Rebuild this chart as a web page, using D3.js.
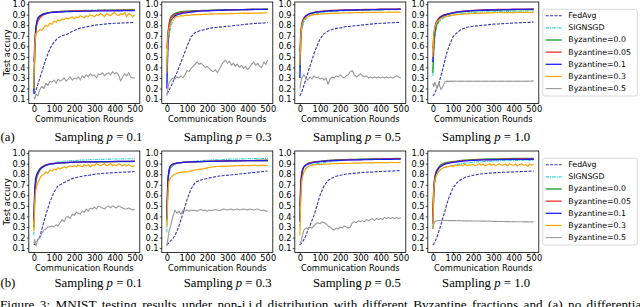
<!DOCTYPE html>
<html>
<head>
<meta charset="utf-8">
<script src="https://cdn.jsdelivr.net/npm/d3@7"></script>
<style>
  body { margin: 0; background: #fff; }
  svg { display: block; }
</style>
</head>
<body>
<svg id="fig" width="640" height="307"></svg>
<script>
// rounds used for the smooth curves and for the noisy ones
var roundsCoarse = [0,5,10,15,20, 30,40,50,60,70,80, 100,120,140,160,180,200, 225,250,275,300, 325,350,375,400, 425,450,475,500];
var roundsFine = [0,5,10, 20,30,40,50,60,70,80,90,100,110, 120,130,140,150,160,170,180,190,200,210,
  220,230,240,250,260,270,280,290,300,310, 320,330,340,350,360,370,380,390,400,410, 420,430,440,450,460,470,480,490,500];

var seriesNames = ["FedAvg", "SIGNSGD", "Byzantine=0.0", "Byzantine=0.05", "Byzantine=0.1", "Byzantine=0.3", "Byzantine=0.5"];
var samplingValues = ["0.1", "0.3", "0.5", "1.0"];
var rowTags = ["(a)", "(b)"];
var xTicks = [0, 100, 200, 300, 400, 500];
var yTicks = [0.1, 0.2, 0.3, 0.4, 0.5, 0.6, 0.7, 0.8, 0.9, 1.0];

// ---- row (a), p = 0.1
var fedavgA1 = [0.15,0.16,0.18,0.21,0.24, 0.30,0.36,0.42,0.48,0.53,0.58, 0.64,0.68,0.70,0.71,0.73,0.75, 0.77,0.78,0.79,0.80, 0.805,0.81,0.815,0.818, 0.82,0.822,0.824,0.826];
var signsgdA1 = [0.20,0.60,0.75,0.80,0.84, 0.87,0.89,0.90,0.91,0.915,0.92, 0.925,0.93,0.932,0.935,0.937,0.938, 0.94,0.942,0.943,0.944, 0.945,0.946,0.947,0.948, 0.948,0.949,0.95,0.95];
var byz0A1 = [0.18,0.62,0.76,0.82,0.85, 0.88,0.90,0.91,0.915,0.92,0.922, 0.925,0.928,0.93,0.932,0.933,0.934, 0.935,0.936,0.937,0.938, 0.939,0.94,0.94,0.941, 0.941,0.942,0.942,0.943];
var byz005A1 = [0.45,0.65,0.77,0.81,0.84, 0.87,0.89,0.90,0.91,0.915,0.92, 0.924,0.927,0.93,0.932,0.934,0.935, 0.936,0.937,0.938,0.939, 0.94,0.94,0.941,0.941, 0.942,0.942,0.943,0.943];
var byz01A1 = [0.15,0.60,0.78,0.84,0.87, 0.89,0.90,0.905,0.91,0.915,0.92, 0.923,0.925,0.927,0.929,0.93,0.931, 0.932,0.933,0.934,0.935, 0.935,0.936,0.936,0.937, 0.937,0.938,0.938,0.938];
var byz03A1 = [0.20,0.62,0.72, 0.74,0.76,0.75,0.78,0.80,0.79,0.82,0.81,0.84,0.83, 0.85,0.84,0.86,0.85,0.87,0.86,0.87,0.88,0.86,0.88,
  0.87,0.89,0.88,0.87,0.89,0.88,0.90,0.89,0.88,0.90, 0.89,0.91,0.90,0.88,0.91,0.90,0.89,0.91,0.92,0.90, 0.89,0.91,0.90,0.92,0.88,0.91,0.90,0.88,0.90];
var byz05A1 = [0.12,0.10,0.15, 0.13,0.19,0.22,0.20,0.25,0.23,0.27,0.26,0.28,0.25, 0.29,0.27,0.28,0.30,0.27,0.29,0.31,0.28,0.30,0.29,
  0.31,0.28,0.32,0.30,0.33,0.31,0.34,0.32,0.33,0.30, 0.34,0.33,0.35,0.32,0.34,0.35,0.33,0.36,0.34,0.35, 0.33,0.27,0.31,0.34,0.32,0.35,0.31,0.30,0.30];

// ---- row (a), p = 0.3
var fedavgA2 = [0.15,0.16,0.18,0.20,0.22, 0.26,0.31,0.35,0.40,0.45,0.50, 0.60,0.69,0.73,0.745,0.755,0.765, 0.775,0.78,0.785,0.79, 0.795,0.80,0.805,0.81, 0.815,0.818,0.82,0.825];
var signsgdA2 = [0.25,0.55,0.68,0.74,0.79, 0.84,0.87,0.89,0.90,0.91,0.915, 0.92,0.925,0.93,0.933,0.936,0.938, 0.94,0.942,0.944,0.945, 0.946,0.947,0.948,0.949, 0.95,0.95,0.951,0.952];
var byz0A2 = [0.35,0.70,0.80,0.85,0.88, 0.90,0.91,0.92,0.925,0.928,0.93, 0.933,0.935,0.937,0.939,0.94,0.941, 0.942,0.943,0.944,0.945, 0.946,0.947,0.948,0.949, 0.95,0.95,0.951,0.952];
var byz005A2 = [0.58,0.72,0.79,0.84,0.87, 0.89,0.90,0.91,0.915,0.92,0.923, 0.927,0.93,0.933,0.935,0.937,0.939, 0.94,0.942,0.943,0.945, 0.946,0.947,0.948,0.949, 0.95,0.95,0.951,0.952];
var byz01A2 = [0.20,0.60,0.74,0.80,0.84, 0.87,0.89,0.90,0.905,0.91,0.915, 0.92,0.925,0.93,0.933,0.935,0.937, 0.939,0.94,0.942,0.944, 0.945,0.946,0.947,0.948, 0.949,0.95,0.95,0.951];
var byz03A2 = [0.35,0.68,0.76, 0.83,0.86,0.87,0.88,0.885,0.89,0.888,0.892,0.895,0.893, 0.897,0.90,0.898,0.90,0.902,0.90,0.903,0.905,0.903,0.905,
  0.907,0.905,0.908,0.906,0.909,0.907,0.91,0.908,0.91,0.909, 0.912,0.91,0.913,0.911,0.913,0.912,0.914,0.912,0.915,0.913, 0.915,0.914,0.916,0.914,0.916,0.915,0.917,0.916,0.918];
var byz05A2 = [0.13,0.20,0.25, 0.28,0.30,0.29,0.31,0.30,0.32,0.30,0.33,0.37,0.36, 0.39,0.41,0.43,0.45,0.43,0.44,0.42,0.40,0.41,0.39,
  0.37,0.36,0.38,0.35,0.38,0.42,0.45,0.47,0.44,0.46, 0.42,0.44,0.41,0.43,0.40,0.42,0.39,0.41,0.38,0.40, 0.43,0.45,0.42,0.44,0.41,0.40,0.45,0.43,0.47];

// ---- row (a), p = 0.5
var fedavgA3 = [0.13,0.15,0.17,0.20,0.23, 0.29,0.35,0.41,0.47,0.53,0.58, 0.67,0.72,0.745,0.76,0.77,0.775, 0.785,0.79,0.795,0.80, 0.805,0.81,0.815,0.818, 0.82,0.823,0.825,0.828];
var signsgdA3 = [0.30,0.65,0.76,0.80,0.83, 0.86,0.88,0.89,0.90,0.905,0.91, 0.918,0.923,0.927,0.93,0.933,0.935, 0.937,0.939,0.94,0.942, 0.943,0.944,0.945,0.946, 0.947,0.948,0.948,0.949];
var byz0A3 = [0.40,0.72,0.80,0.84,0.86, 0.885,0.90,0.91,0.915,0.92,0.923, 0.928,0.932,0.935,0.937,0.939,0.94, 0.942,0.943,0.944,0.945, 0.946,0.947,0.948,0.949, 0.95,0.95,0.951,0.952];
var byz005A3 = [0.55,0.75,0.82,0.85,0.87, 0.89,0.90,0.91,0.915,0.92,0.925, 0.93,0.934,0.937,0.94,0.942,0.943, 0.945,0.946,0.947,0.948, 0.949,0.95,0.951,0.952, 0.952,0.953,0.953,0.954];
var byz01A3 = [0.30,0.70,0.80,0.84,0.86, 0.89,0.90,0.91,0.915,0.92,0.924, 0.928,0.932,0.935,0.937,0.939,0.94, 0.942,0.943,0.944,0.945, 0.946,0.947,0.948,0.949, 0.95,0.95,0.951,0.952];
var byz03A3 = [0.42,0.70,0.80, 0.85,0.87,0.88,0.89,0.895,0.90,0.90,0.903,0.905,0.907, 0.908,0.91,0.91,0.912,0.913,0.912,0.914,0.915,0.914,0.916,
  0.917,0.916,0.918,0.917,0.919,0.918,0.92,0.919,0.92,0.921, 0.92,0.922,0.921,0.923,0.922,0.923,0.922,0.924,0.923,0.924, 0.923,0.925,0.924,0.925,0.924,0.925,0.924,0.925,0.924];
var byz05A3 = [0.20,0.26,0.30, 0.33,0.30,0.28,0.31,0.29,0.32,0.30,0.31,0.29,0.30, 0.28,0.30,0.24,0.29,0.31,0.30,0.32,0.31,0.33,0.31,
  0.30,0.32,0.33,0.36,0.37,0.33,0.31,0.32,0.34,0.32, 0.31,0.32,0.30,0.31,0.30,0.31,0.30,0.31,0.30,0.31, 0.30,0.31,0.30,0.31,0.30,0.31,0.32,0.31,0.30];

// ---- row (a), p = 1.0
var fedavgA4 = [0.13,0.14,0.16,0.18,0.20, 0.25,0.32,0.39,0.47,0.54,0.60, 0.69,0.73,0.76,0.775,0.785,0.79, 0.795,0.80,0.805,0.81, 0.812,0.815,0.818,0.82, 0.823,0.825,0.827,0.83];
var signsgdA4 = [0.32,0.55,0.68,0.75,0.79, 0.83,0.85,0.865,0.875,0.88,0.885, 0.895,0.905,0.91,0.915,0.918,0.92, 0.923,0.925,0.927,0.928, 0.929,0.93,0.931,0.932, 0.933,0.934,0.935,0.935];
var byz0A4 = [0.35,0.60,0.72,0.78,0.81, 0.85,0.87,0.88,0.89,0.90,0.905, 0.915,0.922,0.927,0.93,0.933,0.935, 0.938,0.94,0.942,0.943, 0.944,0.945,0.946,0.947, 0.948,0.948,0.949,0.95];
var byz005A4 = [0.58,0.72,0.78,0.82,0.84, 0.87,0.885,0.895,0.90,0.905,0.91, 0.92,0.927,0.932,0.936,0.939,0.941, 0.943,0.945,0.947,0.948, 0.949,0.95,0.951,0.952, 0.952,0.953,0.953,0.954];
var byz01A4 = [0.45,0.68,0.76,0.81,0.83, 0.86,0.88,0.89,0.898,0.903,0.908, 0.917,0.924,0.929,0.933,0.936,0.938, 0.94,0.942,0.944,0.945, 0.946,0.947,0.948,0.949, 0.95,0.95,0.951,0.951];
var byz03A4 = [0.50,0.72,0.78, 0.83,0.85,0.865,0.875,0.88,0.885,0.89,0.893,0.896,0.898, 0.90,0.902,0.904,0.905,0.907,0.908,0.909,0.91,0.911,0.912,
  0.913,0.913,0.914,0.915,0.915,0.916,0.916,0.917,0.917,0.918, 0.918,0.918,0.919,0.919,0.919,0.92,0.92,0.92,0.92,0.921, 0.921,0.921,0.921,0.922,0.922,0.922,0.922,0.922,0.922];
var byz05A4 = [0.25,0.22,0.26, 0.20,0.25,0.19,0.22,0.265,0.27,0.268,0.27,0.268,0.27, 0.269,0.27,0.268,0.27,0.269,0.27,0.268,0.27,0.269,0.27,
  0.268,0.27,0.269,0.27,0.268,0.27,0.269,0.27,0.268,0.27, 0.269,0.27,0.268,0.27,0.269,0.27,0.268,0.27,0.269,0.27, 0.268,0.27,0.269,0.27,0.268,0.27,0.269,0.272,0.27];

// ---- row (b), p = 0.1
var fedavgB1 = [0.13,0.14,0.15,0.16,0.18, 0.21,0.28,0.35,0.42,0.48,0.54, 0.63,0.69,0.71,0.73,0.75,0.765, 0.775,0.785,0.79,0.80, 0.805,0.81,0.812,0.815, 0.818,0.82,0.822,0.825];
var signsgdB1 = [0.22,0.60,0.72,0.77,0.80, 0.84,0.86,0.88,0.89,0.895,0.90, 0.91,0.915,0.92,0.925,0.928,0.93, 0.933,0.935,0.937,0.939, 0.94,0.942,0.943,0.944, 0.945,0.946,0.947,0.948];
var byz0B1 = [0.30,0.62,0.72,0.78,0.80, 0.84,0.86,0.875,0.885,0.89,0.895, 0.90,0.905,0.908,0.91,0.912,0.913, 0.914,0.915,0.916,0.917, 0.918,0.918,0.919,0.919, 0.92,0.92,0.92,0.921];
var byz005B1 = [0.35,0.65,0.74,0.79,0.81, 0.85,0.87,0.88,0.888,0.893,0.897, 0.902,0.906,0.909,0.911,0.913,0.914, 0.915,0.916,0.917,0.918, 0.919,0.919,0.92,0.92, 0.921,0.921,0.922,0.922];
var byz01B1 = [0.38,0.68,0.77,0.80,0.82, 0.85,0.865,0.875,0.885,0.89,0.895, 0.90,0.905,0.908,0.91,0.912,0.914, 0.915,0.916,0.917,0.918, 0.919,0.92,0.92,0.921, 0.921,0.922,0.922,0.923];
var byz03B1 = [0.26,0.55,0.65, 0.72,0.76,0.79,0.80,0.82,0.81,0.84,0.83,0.85,0.84, 0.86,0.85,0.86,0.87,0.86,0.87,0.88,0.87,0.88,0.87,
  0.89,0.88,0.87,0.89,0.88,0.89,0.87,0.89,0.88,0.90, 0.89,0.88,0.89,0.90,0.88,0.89,0.90,0.88,0.89,0.88, 0.90,0.89,0.88,0.89,0.88,0.89,0.88,0.87,0.88];
var byz05B1 = [0.15,0.18,0.12, 0.18,0.20,0.24,0.27,0.28,0.30,0.30,0.31,0.30,0.32, 0.31,0.34,0.37,0.35,0.39,0.40,0.38,0.42,0.41,0.44,
  0.43,0.42,0.45,0.44,0.47,0.45,0.48,0.47,0.49,0.47, 0.50,0.49,0.48,0.47,0.49,0.50,0.48,0.50,0.49,0.48, 0.50,0.49,0.48,0.47,0.47,0.48,0.47,0.46,0.47];

// ---- row (b), p = 0.3
var fedavgB2 = [0.13,0.14,0.15,0.16,0.17, 0.19,0.22,0.26,0.31,0.37,0.43, 0.56,0.66,0.72,0.74,0.75,0.76, 0.77,0.78,0.785,0.79, 0.795,0.80,0.805,0.81, 0.815,0.82,0.825,0.83];
var signsgdB2 = [0.25,0.65,0.78,0.83,0.86, 0.88,0.89,0.90,0.905,0.91,0.912, 0.917,0.92,0.923,0.926,0.929,0.932, 0.935,0.937,0.939,0.941, 0.943,0.944,0.945,0.946, 0.947,0.948,0.949,0.95];
var byz0B2 = [0.35,0.72,0.82,0.86,0.88, 0.895,0.90,0.905,0.908,0.91,0.912, 0.915,0.917,0.918,0.919,0.92,0.921, 0.922,0.923,0.924,0.925, 0.926,0.927,0.928,0.928, 0.929,0.93,0.93,0.93];
var byz005B2 = [0.45,0.75,0.83,0.86,0.88, 0.895,0.90,0.905,0.908,0.91,0.912, 0.915,0.917,0.918,0.92,0.921,0.922, 0.923,0.924,0.925,0.926, 0.927,0.928,0.928,0.929, 0.929,0.93,0.93,0.931];
var byz01B2 = [0.38,0.74,0.83,0.87,0.885, 0.895,0.90,0.905,0.908,0.91,0.912, 0.914,0.916,0.918,0.919,0.92,0.921, 0.922,0.923,0.924,0.925, 0.926,0.927,0.927,0.928, 0.928,0.929,0.929,0.93];
var byz03B2 = [0.30,0.62,0.73, 0.77,0.79,0.80,0.81,0.815,0.82,0.82,0.822,0.823,0.825, 0.83,0.835,0.84,0.843,0.846,0.848,0.85,0.855,0.86,0.865,
  0.868,0.87,0.872,0.873,0.875,0.874,0.876,0.877,0.878,0.877, 0.88,0.879,0.881,0.88,0.882,0.881,0.883,0.88,0.882,0.884, 0.882,0.883,0.885,0.882,0.884,0.883,0.885,0.882,0.884];
var byz05B2 = [0.12,0.18,0.25, 0.32,0.40,0.46,0.43,0.45,0.42,0.46,0.45,0.46,0.45, 0.46,0.455,0.46,0.45,0.46,0.465,0.455,0.46,0.45,0.46,
  0.455,0.46,0.465,0.46,0.455,0.46,0.47,0.465,0.46,0.465, 0.47,0.46,0.465,0.47,0.46,0.465,0.47,0.465,0.46,0.47, 0.465,0.46,0.465,0.47,0.46,0.455,0.46,0.45,0.45];

// ---- row (b), p = 0.5
var fedavgB3 = [0.13,0.14,0.15,0.165,0.18, 0.22,0.27,0.31,0.36,0.41,0.47, 0.60,0.69,0.74,0.765,0.78,0.79, 0.80,0.805,0.81,0.815, 0.818,0.82,0.823,0.826, 0.828,0.83,0.832,0.835];
var signsgdB3 = [0.30,0.60,0.74,0.80,0.83, 0.86,0.875,0.885,0.89,0.895,0.90, 0.905,0.91,0.915,0.92,0.925,0.928, 0.932,0.935,0.937,0.939, 0.941,0.943,0.944,0.945, 0.946,0.947,0.948,0.948];
var byz0B3 = [0.40,0.70,0.80,0.85,0.87, 0.89,0.90,0.91,0.913,0.916,0.918, 0.922,0.926,0.93,0.933,0.935,0.937, 0.939,0.94,0.941,0.942, 0.943,0.944,0.945,0.946, 0.947,0.948,0.949,0.95];
var byz005B3 = [0.50,0.74,0.82,0.85,0.87, 0.89,0.90,0.908,0.912,0.915,0.918, 0.922,0.925,0.928,0.93,0.932,0.934, 0.936,0.937,0.938,0.939, 0.94,0.941,0.942,0.943, 0.944,0.945,0.945,0.946];
var byz01B3 = [0.35,0.72,0.81,0.85,0.87, 0.885,0.895,0.903,0.908,0.912,0.915, 0.92,0.923,0.926,0.928,0.93,0.932, 0.934,0.935,0.936,0.937, 0.938,0.939,0.94,0.941, 0.942,0.942,0.943,0.943];
var byz03B3 = [0.22,0.60,0.75, 0.82,0.85,0.87,0.88,0.885,0.888,0.89,0.892,0.893,0.894, 0.895,0.896,0.897,0.898,0.899,0.90,0.90,0.901,0.902,0.902,
  0.903,0.903,0.904,0.904,0.905,0.905,0.906,0.906,0.906,0.907, 0.907,0.907,0.908,0.908,0.908,0.909,0.909,0.909,0.91,0.91, 0.91,0.91,0.91,0.911,0.911,0.911,0.911,0.912,0.912];
var byz05B3 = [0.13,0.16,0.20, 0.27,0.29,0.28,0.30,0.29,0.31,0.33,0.34,0.33,0.35, 0.34,0.33,0.31,0.30,0.28,0.27,0.29,0.28,0.30,0.29,
  0.31,0.30,0.29,0.30,0.34,0.35,0.34,0.36,0.35,0.36, 0.35,0.37,0.36,0.37,0.38,0.36,0.38,0.37,0.38,0.37, 0.39,0.38,0.39,0.38,0.39,0.38,0.39,0.38,0.39];

// ---- row (b), p = 1.0
var fedavgB4 = [0.13,0.14,0.16,0.18,0.20, 0.26,0.32,0.39,0.45,0.52,0.58, 0.67,0.72,0.75,0.77,0.78,0.79, 0.80,0.805,0.81,0.813, 0.816,0.818,0.82,0.822, 0.824,0.826,0.828,0.83];
var signsgdB4 = [0.28,0.60,0.72,0.77,0.80, 0.83,0.845,0.855,0.865,0.87,0.875, 0.885,0.893,0.90,0.905,0.91,0.913, 0.917,0.92,0.922,0.924, 0.926,0.928,0.929,0.93, 0.931,0.932,0.933,0.934];
var byz0B4 = [0.45,0.70,0.78,0.82,0.84, 0.87,0.89,0.90,0.908,0.912,0.915, 0.92,0.925,0.93,0.933,0.936,0.938, 0.94,0.942,0.944,0.945, 0.946,0.947,0.948,0.949, 0.95,0.95,0.951,0.951];
var byz005B4 = [0.40,0.68,0.77,0.81,0.83, 0.86,0.88,0.89,0.90,0.905,0.91, 0.917,0.922,0.926,0.929,0.932,0.934, 0.936,0.938,0.939,0.94, 0.941,0.942,0.943,0.943, 0.944,0.944,0.945,0.945];
var byz01B4 = [0.33,0.66,0.76,0.80,0.83, 0.86,0.875,0.885,0.895,0.90,0.905, 0.913,0.918,0.922,0.926,0.929,0.931, 0.933,0.935,0.936,0.937, 0.938,0.939,0.94,0.94, 0.941,0.941,0.942,0.942];
var byz03B4 = [0.28,0.66,0.75, 0.80,0.83,0.845,0.86,0.865,0.87,0.875,0.88,0.87,0.89, 0.88,0.885,0.89,0.88,0.895,0.88,0.89,0.885,0.895,0.88,
  0.89,0.90,0.885,0.895,0.88,0.89,0.90,0.885,0.895,0.88, 0.89,0.90,0.885,0.89,0.895,0.88,0.90,0.89,0.885,0.895, 0.88,0.89,0.90,0.885,0.89,0.875,0.895,0.885,0.89];
var byz05B4 = [0.28,0.33,0.35, 0.36,0.362,0.362,0.361,0.362,0.361,0.36,0.361,0.36,0.36, 0.359,0.36,0.359,0.358,0.359,0.358,0.357,0.358,0.357,0.356,
  0.357,0.356,0.355,0.356,0.355,0.354,0.355,0.354,0.353,0.354, 0.353,0.352,0.353,0.352,0.351,0.352,0.351,0.35,0.351,0.35, 0.349,0.35,0.349,0.348,0.349,0.348,0.347,0.348,0.347];

var panelRows = [
  [[fedavgA1, signsgdA1, byz0A1, byz005A1, byz01A1, byz03A1, byz05A1],
   [fedavgA2, signsgdA2, byz0A2, byz005A2, byz01A2, byz03A2, byz05A2],
   [fedavgA3, signsgdA3, byz0A3, byz005A3, byz01A3, byz03A3, byz05A3],
   [fedavgA4, signsgdA4, byz0A4, byz005A4, byz01A4, byz03A4, byz05A4]],
  [[fedavgB1, signsgdB1, byz0B1, byz005B1, byz01B1, byz03B1, byz05B1],
   [fedavgB2, signsgdB2, byz0B2, byz005B2, byz01B2, byz03B2, byz05B2],
   [fedavgB3, signsgdB3, byz0B3, byz005B3, byz01B3, byz03B3, byz05B3],
   [fedavgB4, signsgdB4, byz0B4, byz005B4, byz01B4, byz03B4, byz05B4]]
];

var colors = ["#3434b4", "#2ed3d3", "#1a9a1a", "#f03030", "#1e1ef0", "#ffa500", "#9a9a9a"];
var dashes = ["3,1.4", "3.5,1,1,1", null, null, null, null, null];
var widths = [1.1, 1.1, 1.3, 1.3, 1.3, 1.2, 1.1];

var sans = "'DejaVu Sans', sans-serif";
var serif = "'Liberation Serif', 'Times New Roman', serif";

var svg = d3.select("#fig");

var plotW = 111, plotH = 101.5;
var colLeft = [28.8, 161.8, 294.8, 427.8];
var rowTop = [2, 151];

var x = d3.scaleLinear().domain([-25, 525]).range([0, plotW]);
var y = d3.scaleLinear().domain([0.058, 1.02]).range([plotH, 0]);

var line = d3.line().x(function(d){ return x(d[0]); }).y(function(d){ return y(d[1]); });

panelRows.forEach(function(row, r){
  row.forEach(function(series, c){
    var g = svg.append("g").attr("transform", "translate(" + colLeft[c] + "," + rowTop[r] + ")");

    var yAxis = g.append("g")
      .call(d3.axisLeft(y).tickValues(yTicks).tickFormat(d3.format(".1f")).tickSize(2).tickPadding(1.2));
    var xAxis = g.append("g").attr("transform", "translate(0," + plotH + ")")
      .call(d3.axisBottom(x).tickValues(xTicks).tickSize(2).tickPadding(0.8));
    [yAxis, xAxis].forEach(function(a){
      a.select(".domain").remove();
      a.selectAll("line").attr("stroke", "#000").attr("stroke-width", 0.7);
      a.selectAll("text").attr("font-family", sans).attr("font-size", "8.3px").attr("fill", "#000");
    });

    series.forEach(function(vals, i){
      var rounds = vals.length === roundsCoarse.length ? roundsCoarse : roundsFine;
      var pts = rounds.map(function(rd, k){ return [rd, vals[k]]; });
      g.append("path")
        .datum(pts)
        .attr("d", line)
        .attr("fill", "none")
        .attr("stroke", colors[i])
        .attr("stroke-width", widths[i])
        .attr("stroke-dasharray", dashes[i])
        .attr("stroke-linejoin", "round");
    });

    g.append("rect")
      .attr("width", plotW).attr("height", plotH)
      .attr("fill", "none").attr("stroke", "#000").attr("stroke-width", 0.8);

    g.append("text")
      .attr("x", x(250)).attr("y", plotH + 18)
      .attr("text-anchor", "middle")
      .attr("font-family", sans).attr("font-size", "8.3px")
      .text("Communication Rounds");

    if (c == 0) {
      svg.append("text")
        .attr("transform", "translate(7.3," + (rowTop[r] + plotH / 2) + ") rotate(-90)")
        .attr("text-anchor", "middle").attr("dominant-baseline", "central")
        .attr("font-family", sans).attr("font-size", "8.3px")
        .text("Test accury");
    }

    // subfigure caption
    var cap = svg.append("text")
      .attr("x", 98.5 + c * 129.2).attr("y", r == 0 ? 140.5 : 286.7)
      .attr("text-anchor", "middle")
      .attr("font-family", serif).attr("font-size", "12.75px");
    cap.append("tspan").text("Sampling ");
    cap.append("tspan").attr("font-style", "italic").text("p");
    cap.append("tspan").text(" = " + samplingValues[c]);
  });

  svg.append("text")
    .attr("x", 0.5).attr("y", r == 0 ? 140.5 : 286.7)
    .attr("font-family", serif).attr("font-size", "12.75px")
    .text(rowTags[r]);

  // legend
  var lg = svg.append("g").attr("transform", "translate(542.7," + (9.3 + r * 149) + ")");
  lg.append("rect")
    .attr("width", 94.6).attr("height", 86.7).attr("rx", 2)
    .attr("fill", "#fff").attr("stroke", "#d0d0d0").attr("stroke-width", 0.8);
  seriesNames.forEach(function(name, i){
    var ly = 6.4 + i * 12.15;
    lg.append("line")
      .attr("x1", 3).attr("x2", 19).attr("y1", ly).attr("y2", ly)
      .attr("stroke", colors[i]).attr("stroke-width", widths[i])
      .attr("stroke-dasharray", dashes[i]);
    lg.append("text")
      .attr("x", 25.6).attr("y", ly)
      .attr("dominant-baseline", "central")
      .attr("font-family", sans).attr("font-size", "7.8px")
      .text(name);
  });
});

// figure caption, justified line in the paper; only its top shows
svg.append("text")
  .attr("x", 0).attr("y", 308.5)
  .attr("font-family", serif).attr("font-size", "13.2px")
  .attr("word-spacing", "2.1px")
  .text("Figure 3: MNIST testing results under non-i.i.d distribution with different Byzantine fractions and (a) no differential");
</script>
</body>
</html>
